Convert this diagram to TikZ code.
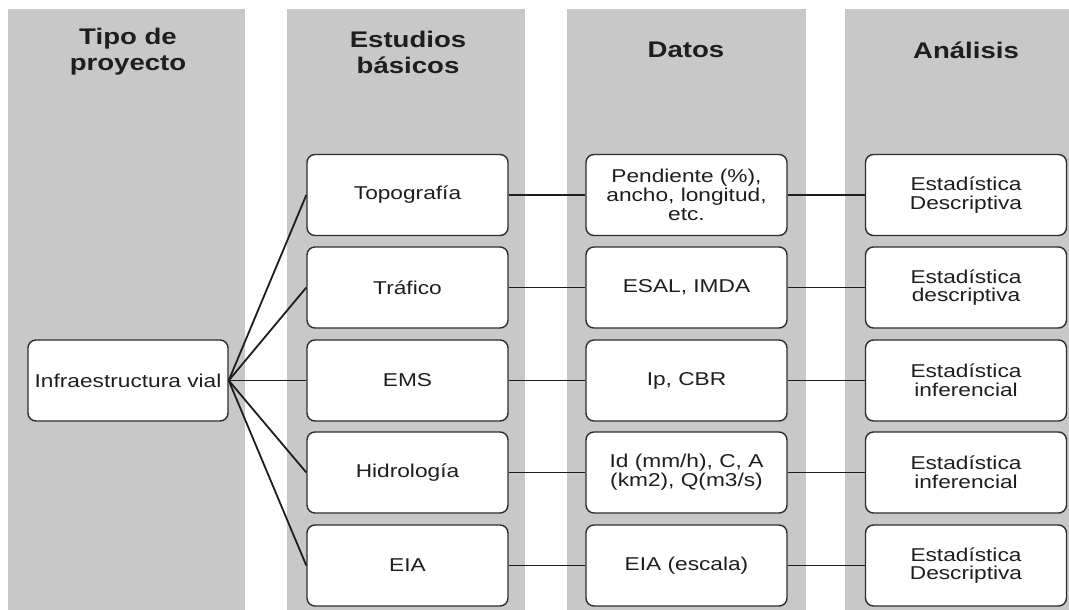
\documentclass[tikz,border=0pt]{standalone}
\usepackage{fontspec}
\setmainfont{Liberation Sans}[FakeStretch=1.22]
\definecolor{colgray}{RGB}{200,200,200}
\definecolor{boxline}{RGB}{45,45,45}
\definecolor{txt}{RGB}{30,30,30}
\tikzset{
  column/.style={fill=colgray, draw=none},
  hdr/.style={font=\fontsize{22.6}{26}\selectfont\bfseries, text=txt, align=center, inner sep=0pt},
  item/.style={draw=boxline, line width=1.4pt, rounded corners=8pt, fill=white,
    minimum width=201pt, minimum height=81pt, inner sep=0pt, align=center,
    font=\fontsize{18.6}{18.8}\selectfont, text=txt},
  link/.style={draw=txt, line width=1.3pt},
  fan/.style={draw=txt, line width=1.8pt},
}
\begin{document}
\begin{tikzpicture}[x=1pt,y=-1pt]
\useasboundingbox (0,0) rectangle (1069,610);
\fill[white] (0,0) rectangle (1069,610);
% columns
\path[column] (8,9) rectangle (245,610);
\path[column] (287,9) rectangle (525,610);
\path[column] (567,9) rectangle (806,610);
\path[column] (845,9) rectangle (1069,610);
% headers
\node[hdr] (h1) at (128,52) {Tipo de\\proyecto};
\node[hdr] (h2) at (408,52) {Estudios\\básicos};
\node[hdr] (h3) at (686,50) {Datos};
\node[hdr] (h4) at (966,50) {Análisis};
% boxes
\node[item, minimum width=200pt] (inf) at (128,380.5) {Infraestructura vial};
\node[item] (s1) at (407.5,195) {Topografía};
\node[item] (s2) at (407.5,287.5) {Tráfico};
\node[item] (s3) at (407.5,380.5) {EMS};
\node[item] (s4) at (407.5,472.5) {Hidrología};
\node[item] (s5) at (407.5,565.5) {EIA};
\node[item] (d1) at (686.5,195) {Pendiente (\%),\\ancho, longitud,\\etc.};
\node[item] (d2) at (686.5,287.5) {ESAL, IMDA};
\node[item] (d3) at (686.5,380.5) {Ip, CBR};
\node[item] (d4) at (686.5,472.5) {Id (mm/h), C, A\\(km2), Q(m3/s)};
\node[item] (d5) at (686.5,565.5) {EIA (escala)};
\node[item] (a1) at (966,195) {Estadística\\Descriptiva};
\node[item] (a2) at (966,287.5) {Estadística\\descriptiva};
\node[item] (a3) at (966,380.5) {Estadística\\inferencial};
\node[item] (a4) at (966,472.5) {Estadística\\inferencial};
\node[item] (a5) at (966,565.5) {Estadística\\Descriptiva};
% connectors
\foreach \i in {1,...,5}{
  \draw[fan] (inf.east) -- (s\i.west);
  \draw[link] (s\i.east) -- (d\i.west);
  \draw[link] (d\i.east) -- (a\i.west);
}
\end{tikzpicture}
\end{document}
